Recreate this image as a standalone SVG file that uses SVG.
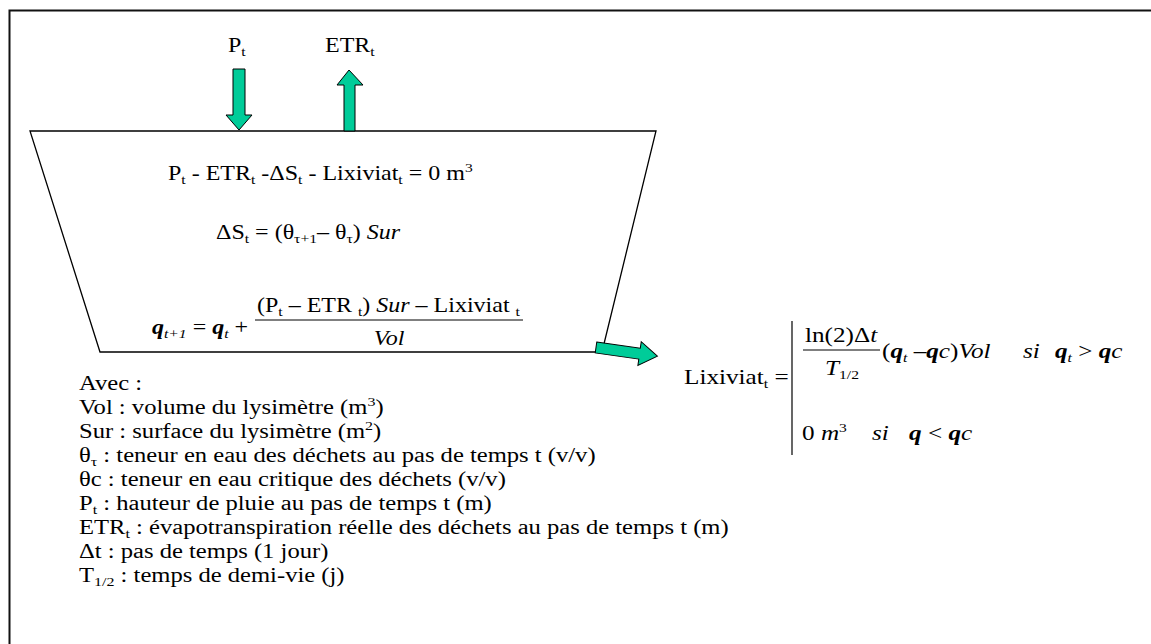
<svg xmlns="http://www.w3.org/2000/svg" width="1151" height="644" viewBox="0 0 1151 644">
<style>
text{font-family:"Liberation Serif","Times New Roman",serif;font-size:20px;fill:#000}
.s{font-size:13px}
.i{font-style:italic}
.b{font-weight:bold;font-style:italic}
.r{font-size:21px}
.arrow{fill:#00CC99;stroke:#000;stroke-width:1}
.line{fill:none;stroke:#000;stroke-width:1.3}
</style>
<rect width="1151" height="644" fill="#fff"/>
<path d="M9.5,644 V10.5 H1151" fill="none" stroke="#111" stroke-width="2"/>

<g id="lysimetre">
<polygon class="line" points="30,131 656,131 602,352 100,352" fill="#fff"/>
</g>

<g id="connectors">
<polygon id="arrow-pluie" class="arrow" points="233,69 245,69 245,115 252,115 239,130 226,115 233,115"/>
<polygon id="arrow-etr" class="arrow" points="344,131 355,131 355,85 363,85 349,70 337,85 344,85"/>
<polygon id="arrow-lixiviat" class="arrow" points="0,-5.5 44,-5.5 44,-12 62,0 44,12 44,5.5 0,5.5" transform="translate(596,347.5) rotate(8)"/>
</g>

<g id="label-pt">
<text transform="matrix(1.2 0 0 1 228 52)">P<tspan class="s" dy="4">t</tspan></text>
</g>
<g id="label-etr">
<text transform="matrix(1.2 0 0 1 325 52)">ETR<tspan class="s" dy="4">t</tspan></text>
</g>

<g id="bilan">
<text transform="matrix(1.2 0 0 1 168 180)">P<tspan class="s" dy="4">t</tspan><tspan dy="-4"> - ETR</tspan><tspan class="s" dy="4">t</tspan><tspan dy="-4"> -ΔS</tspan><tspan class="s" dy="4">t</tspan><tspan dy="-4"> - Lixiviat</tspan><tspan class="s" dy="4">t</tspan><tspan dy="-4"> = 0 m</tspan><tspan class="s" dy="-8">3</tspan></text>
<text transform="matrix(1.2 0 0 1 216 239)">ΔS<tspan class="s" dy="4">t</tspan><tspan dy="-4"> = (θ</tspan><tspan class="s" dy="4">τ+1</tspan><tspan dy="-4">– θ</tspan><tspan class="s" dy="4">τ</tspan><tspan dy="-4">) </tspan><tspan class="i">Sur</tspan></text>
<text transform="matrix(1.2 0 0 1 152 334)"><tspan class="b">q</tspan><tspan class="s i" dy="4">t+1</tspan><tspan dy="-4"> = </tspan><tspan class="b">q</tspan><tspan class="s i" dy="4">t</tspan><tspan dy="-4">  +</tspan></text>
<text transform="matrix(1.2 0 0 1 257 312)">(P<tspan class="s" dy="4">t</tspan><tspan dy="-4"> – ETR </tspan><tspan class="s" dy="4">t</tspan><tspan dy="-4">) </tspan><tspan class="i">Sur</tspan><tspan> – Lixiviat </tspan><tspan class="s" dy="4">t</tspan></text>
<line x1="255" y1="320" x2="523" y2="320" stroke="#000" stroke-width="1"/>
<text class="i" text-anchor="middle" transform="matrix(1.2 0 0 1 389 345)">Vol</text>
</g>

<g id="lixiviat">
<text class="r" transform="matrix(1.2 0 0 1 684 384)">Lixiviat<tspan class="s" dy="4">t</tspan><tspan dy="-4"> =</tspan></text>
<line x1="792" y1="321" x2="792" y2="455" stroke="#000" stroke-width="1.2"/>
<text class="r" transform="matrix(1.2 0 0 1 805 342)">ln(2)Δ<tspan class="i">t</tspan></text>
<line x1="803" y1="350" x2="880" y2="350" stroke="#000" stroke-width="1"/>
<text class="r" transform="matrix(1.2 0 0 1 825 375)"><tspan class="i">T</tspan><tspan class="s" dy="4">1/2</tspan></text>
<text class="r" transform="matrix(1.2 0 0 1 882 358)">(<tspan class="b">q</tspan><tspan class="s i" dy="4">t</tspan><tspan dy="-4"> –</tspan><tspan class="b">q</tspan><tspan class="i">c</tspan>)<tspan class="i">Vol</tspan></text>
<text class="r i" transform="matrix(1.2 0 0 1 1023 358)">si</text>
<text class="r" transform="matrix(1.2 0 0 1 1055 358)"><tspan class="b">q</tspan><tspan class="s i" dy="4">t</tspan><tspan dy="-4"> &gt; </tspan><tspan class="b">q</tspan><tspan class="i">c</tspan></text>
<text class="r" transform="matrix(1.2 0 0 1 802 440)">0 <tspan class="i">m</tspan><tspan class="s" dy="-8">3</tspan></text>
<text class="r i" transform="matrix(1.2 0 0 1 872 440)">si</text>
<text class="r" transform="matrix(1.2 0 0 1 909 440)"><tspan class="b">q</tspan> &lt; <tspan class="b">q</tspan><tspan class="i">c</tspan></text>
</g>

<g id="legende">
<text transform="matrix(1.23 0 0 1 79 390)">Avec :</text>
<text transform="matrix(1.23 0 0 1 79 414)">Vol : volume du lysimètre (m<tspan class="s" dy="-8">3</tspan><tspan dy="8">)</tspan></text>
<text transform="matrix(1.23 0 0 1 79 438)">Sur : surface du lysimètre (m<tspan class="s" dy="-8">2</tspan><tspan dy="8">)</tspan></text>
<text transform="matrix(1.23 0 0 1 79 462)">θ<tspan class="s" dy="4">τ</tspan><tspan dy="-4"> : teneur en eau des déchets au pas de temps t (v/v)</tspan></text>
<text transform="matrix(1.23 0 0 1 79 486)">θc : teneur en eau critique des déchets (v/v)</text>
<text transform="matrix(1.23 0 0 1 79 510)">P<tspan class="s" dy="4">t</tspan><tspan dy="-4"> : hauteur de pluie au pas de temps t (m)</tspan></text>
<text transform="matrix(1.23 0 0 1 79 534)">ETR<tspan class="s" dy="4">t</tspan><tspan dy="-4"> : évapotranspiration réelle des déchets au pas de temps t (m)</tspan></text>
<text transform="matrix(1.23 0 0 1 79 558)">Δt : pas de temps (1 jour)</text>
<text transform="matrix(1.23 0 0 1 79 582)">T<tspan class="s" dy="4">1/2</tspan><tspan dy="-4"> : temps de demi-vie (j)</tspan></text>
</g>
</svg>
